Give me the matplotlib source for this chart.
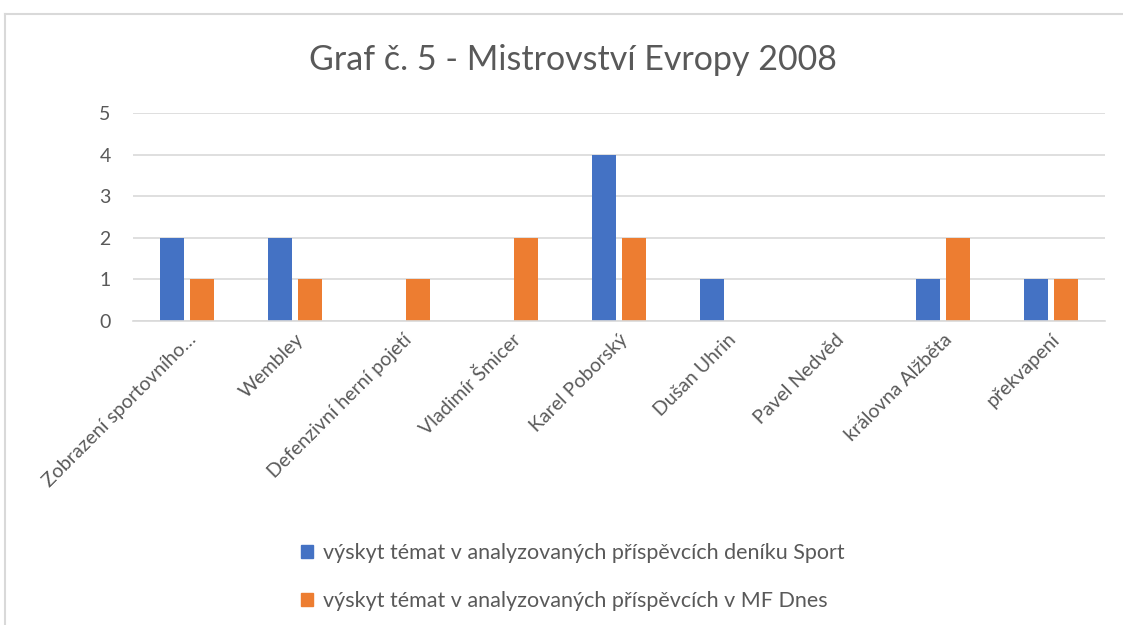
import matplotlib.pyplot as plt
import numpy as np
from matplotlib.lines import Line2D

plt.rcParams['font.family'] = ['Lato', 'DejaVu Sans']

categories = ["Zobrazení sportovního…", "Wembley", "Defenzivní herní pojetí",
              "Vladimír Šmicer", "Karel Poborský", "Dušan Uhrin", "Pavel Nedvěd",
              "královna Alžběta", "překvapení"]
sport = [2, 2, 0, 0, 4, 1, 0, 1, 1]
mfdnes = [1, 1, 1, 2, 2, 0, 0, 2, 1]
series_names = ["výskyt témat v analyzovaných příspěvcích deníku Sport",
                "výskyt témat v analyzovaných příspěvcích v MF Dnes"]

text_color = "#595959"
grid_color = "#D9D9D9"

fig = plt.figure(figsize=(11.23, 6.25), dpi=100)
ax = fig.add_axes([133 / 1123, 1 - 321 / 625, (1105 - 133) / 1123, (321 - 113) / 625])

x = np.arange(len(categories))
w = 0.222
gap = 0.056
ax.bar(x - (w + gap) / 2, sport, w, color="#4472C4", label=series_names[0])
ax.bar(x + (w + gap) / 2, mfdnes, w, color="#ED7D31", label=series_names[1])

ax.set_xlim(-0.5, len(categories) - 0.5)
ax.set_ylim(0, 5)
ax.set_yticks(range(6))
ax.yaxis.grid(True, color=grid_color, linewidth=1.2)
ax.set_axisbelow(True)
for s in ["top", "right", "left"]:
    ax.spines[s].set_visible(False)
ax.spines["bottom"].set_color(grid_color)
ax.spines["bottom"].set_linewidth(1.2)
ax.tick_params(axis="both", length=0, colors=text_color, labelsize=14)
ax.tick_params(axis="y", pad=16)
ax.tick_params(axis="x", pad=7)
ax.set_xticks(x)
ax.set_xticklabels(categories, rotation=45, ha="right", rotation_mode="anchor")

fig.text(0.51, 1 - 60 / 625, "Graf č. 5 - Mistrovství Evropy 2008",
         ha="center", va="center", fontsize=24.5, color=text_color)

handles = [plt.Rectangle((0, 0), 1, 1, color="#4472C4"),
           plt.Rectangle((0, 0), 1, 1, color="#ED7D31")]
fig.legend(handles, series_names, loc="center", bbox_to_anchor=(0.51, 1 - 577 / 625),
           frameon=False, fontsize=15.5, labelcolor=text_color, handlelength=0.55,
           handleheight=0.55, handletextpad=0.45, labelspacing=1.3)

# chart frame
fig.add_artist(Line2D([5 / 1123, 1], [1 - 14 / 625, 1 - 14 / 625], color=grid_color, lw=1.5))
fig.add_artist(Line2D([5 / 1123, 5 / 1123], [0, 1 - 14 / 625], color=grid_color, lw=1.5))

fig.savefig("out.png", dpi=100)
